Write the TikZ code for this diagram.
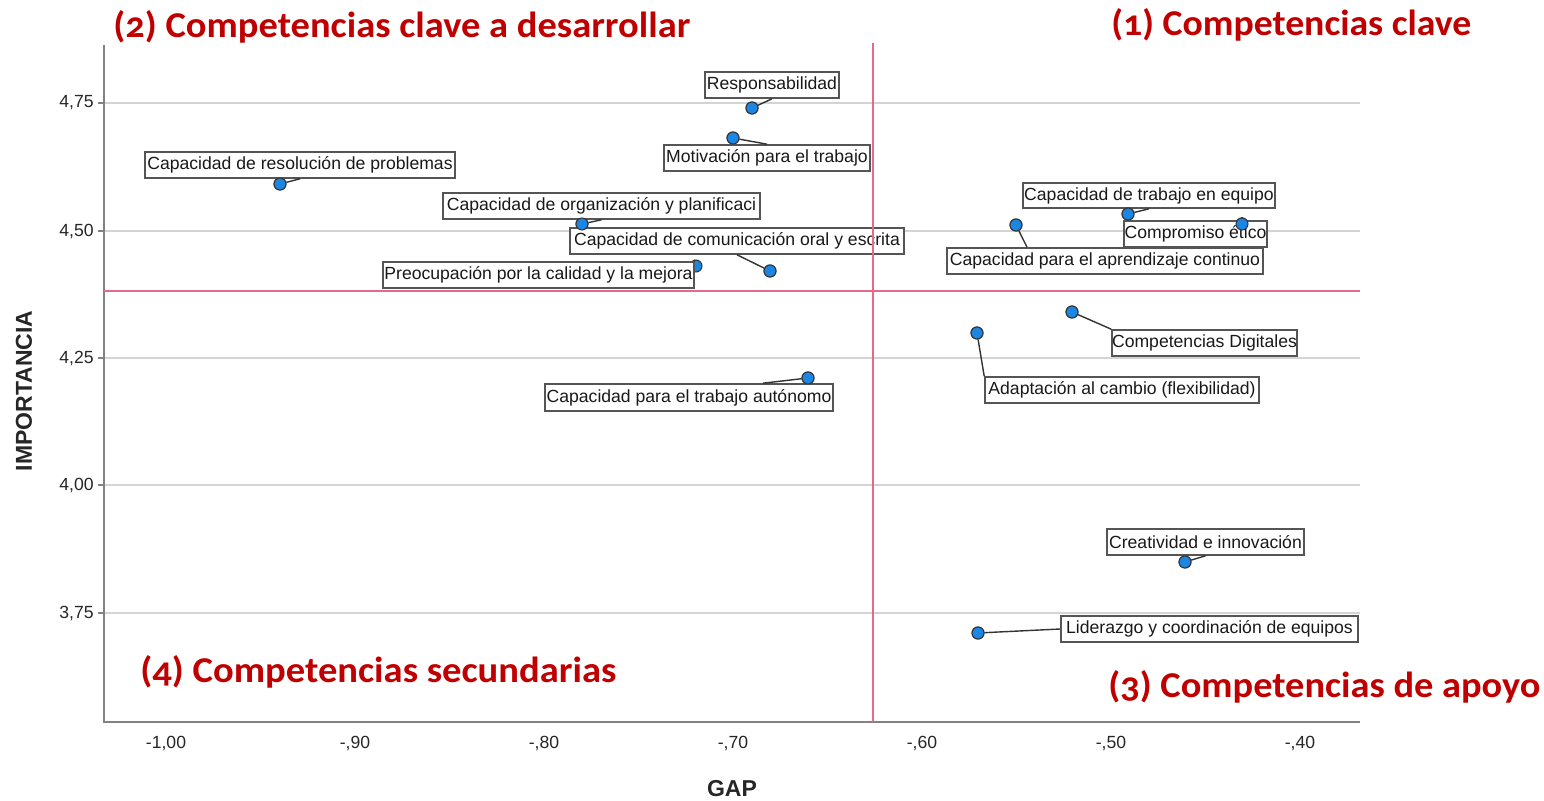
\documentclass[tikz,border=0pt]{standalone}
\usepackage{fontspec}
\usepackage{graphicx}
\setmainfont{Liberation Sans}
\newfontfamily\titlefont[Numbers=OldStyle]{Carlito}
\definecolor{ttlred}{RGB}{192,0,0}
\definecolor{refred}{RGB}{230,105,135}
\definecolor{gridg}{RGB}{212,212,212}
\definecolor{axisg}{RGB}{130,130,130}
\definecolor{dotblue}{RGB}{28,134,228}
\definecolor{boxg}{RGB}{85,85,85}
\begin{document}
\begin{tikzpicture}[x=0.5pt,y=-0.5pt,
  lbl/.style={draw=boxg, line width=0.8pt, fill=white, inner sep=0pt, minimum height=13pt,
    font=\fontsize{8.8}{10}\selectfont, text=black!90},
  dot/.style={circle, draw=black!80, line width=0.5pt, fill=dotblue, inner sep=0pt, minimum size=6pt},
  conn/.style={draw=black!80, line width=0.7pt},
  grid/.style={draw=gridg, line width=1pt},
  refl/.style={draw=refred, line width=1pt},
  axis/.style={draw=axisg, line width=0.8pt},
  tick/.style={font=\fontsize{8.8}{10}\selectfont, text=black!85, inner sep=0pt},
  ttl/.style={font=\titlefont\bfseries, text=ttlred, inner sep=0pt},
  axl/.style={font=\bfseries\fontsize{11.5}{12}\selectfont, text=black!85, inner sep=0pt}]
\useasboundingbox (0,0) rectangle (1544,801);
% grid lines and axis frame
\coordinate (axO) at (104,722);
\coordinate (axT) at (104,45);
\coordinate (axR) at (1360,722);
\foreach \yy/\lab/\nm in {103/{4,75}/a,231/{4,50}/b,358/{4,25}/c,485/{4,00}/d,613/{3,75}/e}{
  \coordinate (gl\nm) at (104,\yy);
  \coordinate (gr\nm) at (1360,\yy);
  \coordinate (gt\nm) at (98,\yy);
  \draw[grid] (gl\nm) -- (gr\nm);
  \draw[axis] (gt\nm) -- (gl\nm);
  \node[tick, anchor=east] (yt\nm) at (94,\yy) {\lab};
}
\draw[axis] (axT) -- (axO) -- (axR);
\foreach \xx/\lab/\nm in {166/{-1,00}/a,355/{-,90}/b,544/{-,80}/c,733/{-,70}/d,922/{-,60}/e,1111/{-,50}/f,1300/{-,40}/g}{
  \node[tick] (xt\nm) at (\xx,743) {\lab};
}
\node[axl, rotate=90] (ylab) at (24,391) {IMPORTANCIA};
\node[axl] (xlab) at (732,789) {GAP};

% data points
\node[dot] (p1) at (752,108) {};
\node[dot] (p2) at (733,138) {};
\node[dot] (p3) at (280,184) {};
\node[dot] (p4) at (582,224) {};
\node[dot] (p5) at (770,271) {};
\node[dot] (p6) at (696,266) {};
\node[dot] (p7) at (808,378) {};
\node[dot] (p8) at (1128,214) {};
\node[dot] (p9) at (1242,224) {};
\node[dot] (p10) at (1016,225) {};
\node[dot] (p11) at (1072,312) {};
\node[dot] (p12) at (977,333) {};
\node[dot] (p13) at (1185,562) {};
\node[dot] (p14) at (978,633) {};

% labels
\node[lbl, minimum width=67pt] (b1) at (772,85) {Responsabilidad};
\node[lbl, minimum width=103pt] (b2) at (767,158) {Motivación para el trabajo};
\node[lbl, minimum width=155pt] (b3) at (300,165) {Capacidad de resolución de problemas};
\node[lbl, minimum width=158.5pt] (b4) at (601.5,206) {Capacidad de organización y planificaci};
\node[lbl, minimum width=167pt] (b5) at (737,241) {Capacidad de comunicación oral y escrita};
\node[lbl, minimum width=155.5pt] (b6) at (538.5,275) {Preocupación por la calidad y la mejora};
\node[lbl, minimum width=144pt, minimum height=13.5pt] (b7) at (689,397.5) {Capacidad para el trabajo autónomo};
\node[lbl, minimum width=126pt, minimum height=12.5pt] (b8) at (1149,195.5) {Capacidad de trabajo en equipo};
\node[lbl, minimum width=158pt] (b10) at (1105,261) {Capacidad para el aprendizaje continuo};
\node[lbl, minimum width=71.5pt] (b9) at (1195.5,234) {Compromiso ético};
\node[lbl, minimum width=92.5pt] (b11) at (1204.5,343) {Competencias Digitales};
\node[lbl, minimum width=137pt] (b12) at (1122,390) {Adaptación al cambio (flexibilidad)};
\node[lbl, minimum width=98.5pt] (b13) at (1205.5,542) {Creatividad e innovación};
\node[lbl, minimum width=148.5pt] (b14) at (1209.5,629) {Liderazgo y coordinación de equipos};

% connectors
\draw[conn] (p1) -- (b1.south);
\draw[conn] (p2) -- (b2.north);
\draw[conn] (p3) -- (b3.south);
\draw[conn] (p4) -- (b4.south);
\draw[conn] (p5) -- (b5.south);
\draw[conn] (p6) -- (b6.north east);
\draw[conn] (p7) -- ([xshift=37pt]b7.north);
\draw[conn] (p8) -- (b8.south);
\draw[conn] (p9) -- (b9.north -| p9);
\draw[conn] (p10) -- ([xshift=-39pt]b10.north);
\draw[conn] (p11) -- (b11.north west);
\draw[conn] (p12) -- (b12.north west);
\draw[conn] (p13) -- (b13.south);
\draw[conn] (p14) -- (b14.west);

% redraw points above labels (except p6, which sits under its box corner)
\foreach \i/\px/\py in {1/752/108,2/733/138,3/280/184,4/582/224,5/770/271,7/808/378,8/1128/214,9/1242/224,10/1016/225,11/1072/312,12/977/333,13/1185/562,14/978/633}{
  \node[dot] (q\i) at (\px,\py) {};
}

% reference lines
\coordinate (rvT) at (873,43);
\coordinate (rvB) at (873,722);
\coordinate (rhL) at (104,291);
\coordinate (rhR) at (1360,291);
\draw[refl] (rvT) -- (rvB);
\draw[refl] (rhL) -- (rhR);

% quadrant titles
\node[ttl, anchor=base west] (t2) at (113,38) {\resizebox{288.5pt}{13.5pt}{(2) Competencias clave a desarrollar}};
\node[ttl, anchor=base west] (t1) at (1111,36) {\resizebox{180pt}{13.5pt}{(1) Competencias clave}};
\node[ttl, anchor=base west] (t4) at (140,683) {\resizebox{238pt}{13.5pt}{(4) Competencias secundarias}};
\node[ttl, anchor=base west] (t3) at (1108,698) {\resizebox{216pt}{13.5pt}{(3) Competencias de apoyo}};
\end{tikzpicture}
\end{document}
